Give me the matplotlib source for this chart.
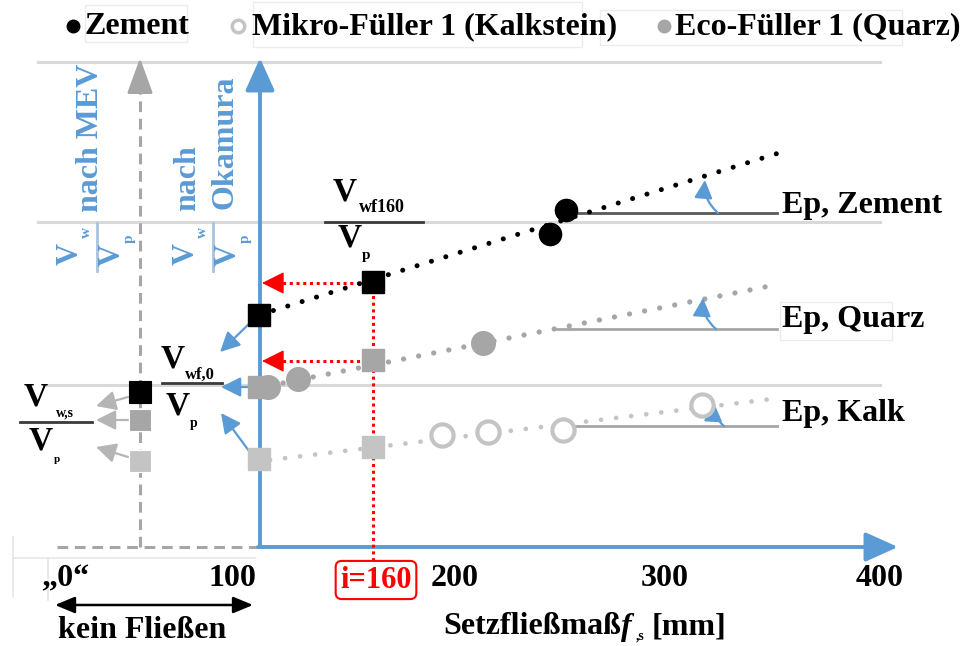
import matplotlib
matplotlib.use('Agg')
import matplotlib.pyplot as plt
from matplotlib.patches import FancyArrowPatch, Rectangle

plt.rcParams['font.family'] = ['Liberation Serif', 'DejaVu Serif']
plt.rcParams['font.weight'] = 'bold'

# ---------------- data (schematic drawing units; y grows downwards) ----------------
legend_labels = ['Zement', 'Mikro-Füller 1 (Kalkstein)', 'Eco-Füller 1 (Quarz)']
x_tick_labels = ['„0“', '100', '200', '300', '400']
x_tick_pos = [65, 232, 455, 665, 880]
x_label_main = 'Setzfließmaß'
ep_labels = ['Ep, Zement', 'Ep, Quarz', 'Ep, Kalk']
ep_y = [213, 329, 426]
ep_start = [575, 557, 567]
ep_text_y = [206, 320, 414]
ref_flow_label = 'i=160'

# squares: Okamura axis (x=259) and at the reference flow (x=373)
zement_sq_x = [259, 373]
zement_sq_y = [315, 282]
quarz_sq_x = [259, 373]
quarz_sq_y = [387, 360]
kalk_sq_x = [259, 373]
kalk_sq_y = [459, 447]
# squares on the MEV axis ("no flow")
mev_sq_y = [392, 420, 461]

# measured circles
zement_circ_x = [550, 566]
zement_circ_y = [234, 210]
quarz_circ_x = [268, 298, 483]
quarz_circ_y = [387, 379, 343]
kalk_circ_x = [442, 488, 563, 702]
kalk_circ_y = [435, 432, 430, 405]

# trend-line end points
zement_trend_x = [259, 782]
zement_trend_y = [315, 152]
quarz_trend_x = [268, 780]
quarz_trend_y = [386, 284]
kalk_trend_x = [270, 780]
kalk_trend_y = [460, 398]

BLUE = '#5B9BD5'
LGRID = '#d9d9d9'
QGREY = '#a6a6a6'
KGREY = '#c4c4c4'
RED = '#ff0000'

fig = plt.figure(figsize=(9.76, 6.46), dpi=100)
ax = fig.add_axes([0, 0, 1, 1])
ax.set_xlim(0, 976)
ax.set_ylim(646, 0)
ax.axis('off')


def arrow(tail, tip, color, lw=1.5, hl=1.0, hw=0.5, ms=10, ls='-', z=5, cs='arc3'):
    a = FancyArrowPatch(tail, tip, arrowstyle=f'-|>,head_length={hl},head_width={hw}',
                        mutation_scale=ms, color=color, lw=lw, linestyle=ls,
                        shrinkA=0, shrinkB=0, zorder=z, connectionstyle=cs)
    ax.add_patch(a)


# ---------------- legend ----------------
ax.plot([73], [26], 'o', ms=9, color='black', zorder=5)
ax.plot([238], [26], 'o', ms=9, mfc='white', mec=KGREY, mew=2.5, zorder=5)
ax.plot([664], [26], 'o', ms=9, color=QGREY, zorder=5)
for x, lab in zip([85, 252, 675], legend_labels):
    ax.text(x, 27, lab, fontsize=23, ha='left', va='center')
for (x0, y0, x1, y1) in [(85, 5, 187, 42), (253, 2, 582, 47), (600, 10, 902, 45)]:
    ax.add_patch(Rectangle((x0, y0), x1 - x0, y1 - y0, fill=False, ec='#ececec', lw=1, zorder=1))

# ---------------- light grid lines ----------------
ax.plot([38, 880], [62, 62], color=LGRID, lw=2.2, zorder=1)
ax.plot([38, 880], [222, 222], color=LGRID, lw=2.2, zorder=1)
ax.plot([47, 880], [385, 385], color=LGRID, lw=2.2, zorder=1)
# faint frame lines at bottom-left
ax.plot([13, 255], [558, 558], color='#e6e6e6', lw=1.2, zorder=1)
ax.plot([13, 13], [537, 597], color='#e6e6e6', lw=1.2, zorder=1)
ax.plot([48, 48], [558, 600], color='#e6e6e6', lw=1.2, zorder=1)

# ---------------- axes ----------------
arrow((260, 547), (260, 58), BLUE, lw=2.8, hl=2.0, hw=0.9, ms=10, z=3)
arrow((258, 547), (898, 547), BLUE, lw=2.8, hl=2.0, hw=0.9, ms=10, z=3)
ax.plot([140, 140], [547, 82], color='#a6a6a6', lw=2.2, ls=(0, (3.5, 2.2)), zorder=2)
arrow((140, 84), (140, 58), '#a6a6a6', lw=2.0, hl=2.2, hw=0.8, ms=10, z=2)
ax.plot([57, 258], [547, 547], color='#a6a6a6', lw=2.2, ls=(0, (3.5, 2.2)), zorder=2)

# ---------------- rotated blue labels ----------------
ax.text(90, 138, 'nach MEV', color=BLUE, fontsize=23, rotation=90, ha='center', va='center')
ax.text(188, 178, 'nach', color=BLUE, fontsize=23, rotation=90, ha='center', va='center')
ax.text(225, 142, 'Okamura', color=BLUE, fontsize=23, rotation=90, ha='center', va='center')
for xb in [97, 213]:
    ax.plot([xb, xb], [223, 271], color='#a9c4de', lw=2.0, zorder=3)
    ax.text(xb - 27, 254, 'V', color=BLUE, fontsize=22, rotation=90, ha='center', va='center')
    ax.text(xb - 11, 232, 'w', color=BLUE, fontsize=11, rotation=90, ha='center', va='center')
    ax.text(xb + 15, 255, 'V', color=BLUE, fontsize=22, rotation=90, ha='center', va='center')
    ax.text(xb + 32, 239, 'p', color=BLUE, fontsize=11, rotation=90, ha='center', va='center')


# ---------------- black fractions ----------------
def fraction(xv, y_top, y_bar, y_bot, sub_top, bar_x0, bar_x1, fs=24, sfs=13, sub_dx=14):
    ax.text(xv, y_top, 'V', fontsize=fs, ha='center', va='center')
    ax.text(xv + sub_dx, y_top + 16, sub_top, fontsize=sfs, ha='left', va='center')
    ax.plot([bar_x0, bar_x1], [y_bar, y_bar], color='#3a3a3a', lw=2.0, zorder=4)
    ax.text(xv + 5, y_bot, 'V', fontsize=fs, ha='center', va='center')
    ax.text(xv + 21, y_bot + 18, 'p', fontsize=sfs - 2, ha='center', va='center')


fraction(345, 192, 222, 238, 'wf160', 325, 423)
fraction(173, 359, 383, 406, 'wf,0', 162, 222, sfs=12, sub_dx=12)
fraction(36, 397, 422, 441, 'w,s', 20, 92, sfs=10, sub_dx=20)

# ---------------- red reference flow ----------------
ax.plot([373, 373], [282, 562], color=RED, lw=2.2, ls=(0, (1, 1.2)), zorder=3)
for yy in [283, 361]:
    ax.plot([373, 274], [yy, yy], color=RED, lw=2.2, ls=(0, (1, 1.2)), zorder=3)
    arrow((277, yy), (262, yy), RED, lw=1.0, hl=1.4, hw=0.7, ms=10, z=6)
ax.text(376, 580, ref_flow_label, color=RED, fontsize=22, ha='center', va='center', zorder=6,
        bbox=dict(boxstyle='round,pad=0.15,rounding_size=0.2', fc='white', ec=RED, lw=1.5))

# ---------------- trend lines (dotted) ----------------
ax.plot(zement_trend_x, zement_trend_y, color='black', lw=3.6, ls=(0, (0.01, 3.0)),
        dash_capstyle='round', zorder=4)
ax.plot(quarz_trend_x, quarz_trend_y, color=QGREY, lw=3.8, ls=(0, (0.01, 2.9)),
        dash_capstyle='round', zorder=4)
ax.plot(kalk_trend_x, kalk_trend_y, color=KGREY, lw=3.4, ls=(0, (0.01, 3.2)),
        dash_capstyle='round', zorder=4)

# ---------------- Ep lines ----------------
ep_colors = ['#595959', QGREY, QGREY]
for y, x0, c, lab, ty in zip(ep_y, ep_start, ep_colors, ep_labels, ep_text_y):
    ax.plot([x0, 777], [y, y], color=c, lw=2.0, zorder=3)
    ax.text(782, ty, lab, fontsize=23, ha='left', va='center')
ax.add_patch(Rectangle((780, 302), 112, 38, fill=False, ec='#ececec', lw=1, zorder=1))
# curved blue angle arrows
arrow((718, 213), (705, 180), BLUE, lw=1.6, hl=1.1, hw=0.55, ms=10, z=6, cs='arc3,rad=-0.25')
arrow((716, 329), (703, 298), BLUE, lw=1.6, hl=1.1, hw=0.55, ms=10, z=6, cs='arc3,rad=-0.25')
arrow((724, 426), (714, 403), BLUE, lw=1.6, hl=1.1, hw=0.55, ms=10, z=6, cs='arc3,rad=-0.25')

# ---------------- markers ----------------
ax.plot(kalk_circ_x, kalk_circ_y, 'o', ms=16, mfc='white', mec=KGREY, mew=3.0, zorder=6)
ax.plot(quarz_circ_x, quarz_circ_y, 'o', ms=17, color=QGREY, zorder=6)
ax.plot(zement_circ_x, zement_circ_y, 'o', ms=16, color='black', zorder=6)
ax.plot(kalk_sq_x, kalk_sq_y, 's', ms=16, color=KGREY, zorder=7)
ax.plot(quarz_sq_x, quarz_sq_y, 's', ms=16, color=QGREY, zorder=7)
ax.plot(zement_sq_x, zement_sq_y, 's', ms=16, color='black', zorder=7)
mev_colors = ['black', QGREY, KGREY]
for y, c in zip(mev_sq_y, mev_colors):
    ax.plot([140], [y], 's', ms=16, color=c, zorder=7, mec='white' if c != 'black' else 'black', mew=0.8)

# arrows from the Okamura axis to the Vwf,0 label
arrow((251, 322), (220, 352), BLUE, lw=1.6, hl=1.2, hw=0.6, ms=10, z=6)
arrow((249, 387), (221, 387), BLUE, lw=1.6, hl=1.2, hw=0.6, ms=10, z=6)
arrow((249, 451), (221, 413), BLUE, lw=1.6, hl=1.2, hw=0.6, ms=10, z=6)
# grey arrows from the MEV axis to the Vw,s label
GA = '#b5b5b5'
arrow((128, 397), (96, 406), GA, lw=1.6, hl=1.2, hw=0.6, ms=10, z=6)
arrow((128, 420), (96, 420), GA, lw=1.6, hl=1.2, hw=0.6, ms=10, z=6)
arrow((128, 457), (96, 447), GA, lw=1.6, hl=1.2, hw=0.6, ms=10, z=6)

# ---------------- bottom labels ----------------
for x, lab in zip(x_tick_pos, x_tick_labels):
    ax.text(x, 579, lab, fontsize=23, ha='center', va='center')
a = FancyArrowPatch((55, 605), (253, 605), arrowstyle='<|-|>,head_length=1.2,head_width=0.5',
                    mutation_scale=10, color='black', lw=1.8, shrinkA=0, shrinkB=0, zorder=5)
ax.add_patch(a)
ax.text(142, 631, 'kein Fließen', fontsize=23, ha='center', va='center')
ax.text(443, 627, x_label_main, fontsize=23, ha='left', va='center')
ax.text(626, 627, 'f', fontsize=23, ha='center', va='center', style='italic')
ax.text(636, 636, ',s', fontsize=10, ha='left', va='center')
ax.text(652, 627, '[mm]', fontsize=23, ha='left', va='center')

fig.savefig('out.png', dpi=100)
